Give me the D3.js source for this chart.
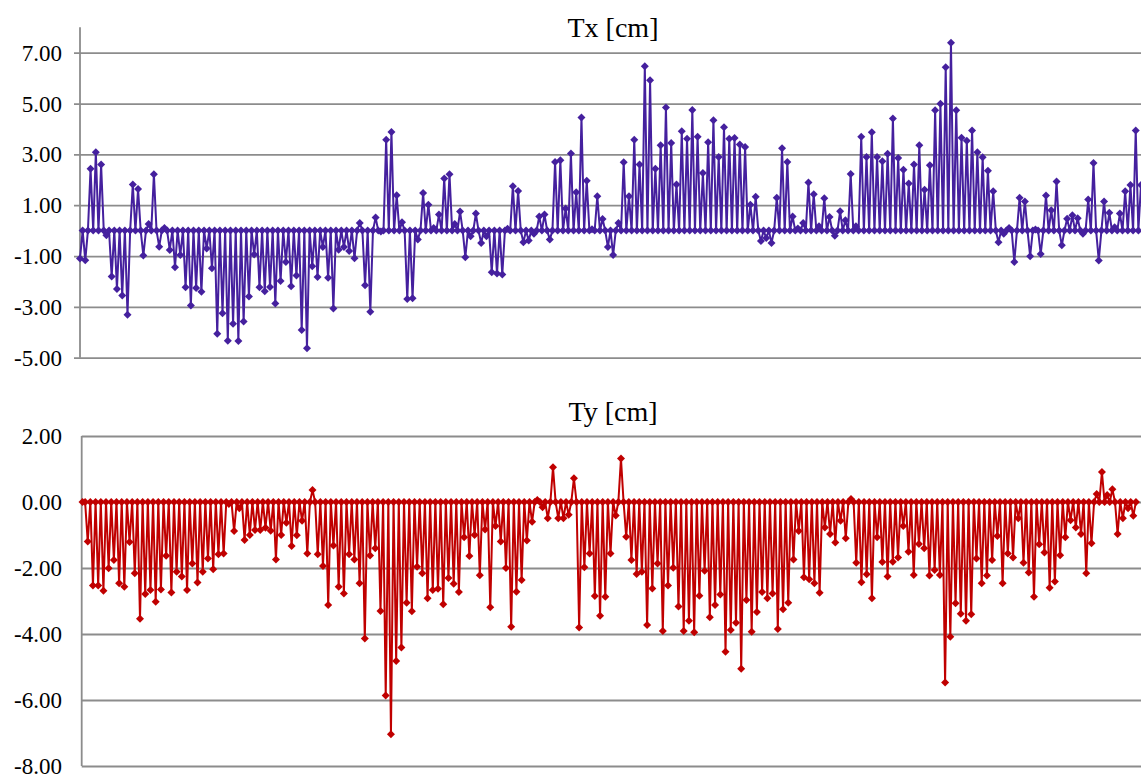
<!DOCTYPE html>
<html><head><meta charset="utf-8">
<script src="https://cdn.jsdelivr.net/npm/d3@7"></script>
<style>body{margin:0;background:#fff}svg{display:block}.tick text{font-family:'Liberation Serif','Times New Roman',serif !important;}</style>
</head><body>
<svg id="c" width="1141" height="775"></svg>
<script>
const txValues = [
-1.10,0,-1.17,0,2.43,0,3.08,0,2.60,0,-0.18,0,-1.81,0,-2.30,0,-2.55,0,-3.31,0,
1.81,0,1.64,0,-0.98,0,0.26,0,2.22,0,-0.63,0,0.10,0,-0.76,0,-1.44,0,-0.96,0,
-2.23,0,-2.95,0,-2.26,0,-2.41,0,-0.70,0,-1.48,0,-4.06,0,-3.25,0,-4.33,0,-3.66,0,
-4.34,0,-3.58,0,
-2.59,0,-0.94,0,-2.23,0,-2.39,0,-2.22,0,-2.87,0,-1.98,0,-1.23,0,-2.19,0,-1.77,0,
-3.91,0,-4.63,0,-1.40,0,-1.82,0,-0.64,0,-1.85,0,-3.06,0,-0.75,0,-0.64,0,-0.80,0,
-1.09,0,0.30,0,-2.15,0,-3.19,0,0.52,0,-0.03,0,3.58,0,3.88,0,1.39,0,0.33,0,
-2.69,0,-2.66,0,-0.35,0,1.48,0,
1.02,0,0.10,0,0.63,0,2.05,0,2.22,0,0.26,0,0.75,0,-1.05,0,-0.22,0,0.67,0,
-0.49,0,-0.22,0,-1.64,0,-1.69,0,-1.73,0,0.07,0,1.75,0,1.56,0,-0.46,0,-0.39,0,
-0.12,0,0.56,0,0.63,0,-0.35,0,2.70,0,2.77,0,0.87,0,3.03,0,1.51,0,4.45,0,
1.96,0,0.05,0,
1.35,0,0.46,0,-0.64,0,-0.96,0,0.30,0,2.69,0,1.35,0,3.58,0,2.60,0,6.47,0,
5.92,0,2.43,0,3.36,0,4.84,0,3.45,0,1.81,0,3.91,0,3.61,0,4.75,0,3.69,0,
2.27,0,3.48,0,4.34,0,2.90,0,4.07,0,3.61,0,3.64,0,3.39,0,3.29,0,1.02,0,
1.33,0,-0.41,0,-0.29,0,-0.49,0,
1.29,0,3.24,0,2.70,0,0.56,0,0.08,0,0.30,0,1.89,0,1.43,0,0.17,0,1.27,0,
0.54,0,-0.20,0,0.76,0,0.41,0,2.23,0,0.17,0,3.69,0,2.90,0,3.87,0,2.90,0,
2.73,0,3.02,0,4.41,0,2.86,0,2.40,0,1.85,0,2.60,0,3.36,0,1.61,0,2.57,0,
4.74,0,4.99,0,
6.43,0,7.39,0,4.74,0,3.65,0,3.54,0,3.94,0,3.08,0,2.89,0,2.36,0,1.55,0,
-0.46,0,-0.12,0,0.10,0,-1.23,0,1.29,0,1.15,0,-1.01,0,0.04,0,-0.92,0,1.38,0,
0.80,0,1.93,0,-0.58,0,0.47,0,0.60,0,0.49,0,-0.12,0,1.22,0,2.66,0,-1.18,0,
1.15,0,0.70,0,0.13,0,0.67,0,1.55,0,1.80,0,3.94,0,1.80,0
];

const tyValues = [
0.00,0,-1.20,0,-2.53,0,-2.53,0,-2.69,0,-2.01,0,-1.76,0,-2.46,0,-2.57,0,-1.21,0,
-2.16,0,-3.54,0,-2.79,0,-2.67,0,-3.02,0,-2.65,0,-1.63,0,-2.74,0,-2.11,0,-2.26,0,
-2.67,0,-1.86,0,-2.44,0,-2.11,0,-1.71,0,-2.04,0,-1.58,0,-1.56,0,-0.06,0,-0.88,0,
-0.19,0,-1.15,0,
-1.00,0,-0.85,0,-0.85,0,-0.78,0,-0.87,0,-1.74,0,-1.00,0,-0.63,0,-1.33,0,-1.01,0,
-0.57,0,-1.56,0,0.36,0,-1.58,0,-1.94,0,-3.12,0,-1.32,0,-2.57,0,-2.77,0,-1.58,0,
-1.74,0,-2.46,0,-4.14,0,-1.62,0,-1.40,0,-3.30,0,-5.86,0,-7.04,0,-4.82,0,-4.41,0,
-3.05,0,-3.31,0,-1.96,0,-2.16,0,
-2.92,0,-2.67,0,-2.63,0,-3.10,0,-2.30,0,-2.48,0,-2.73,0,-1.07,0,-1.64,0,-1.00,0,
-2.22,0,-0.83,0,-3.19,0,-0.73,0,-1.20,0,-2.00,0,-3.78,0,-2.72,0,-2.36,0,-1.17,0,
-0.60,0,0.06,0,-0.16,0,-0.49,0,1.05,0,-0.49,0,-0.49,0,-0.39,0,0.72,0,-3.80,0,
-1.98,0,-1.56,0,-2.85,0,
-3.45,0,-2.87,0,-1.56,0,-0.41,0,1.32,0,-1.05,0,-1.76,0,-2.18,0,-2.11,0,-3.73,0,
-2.62,0,-1.86,0,-3.91,0,-2.53,0,-1.99,0,-3.17,0,-3.91,0,-3.60,0,-3.95,0,-2.84,0,
-2.08,0,-3.49,0,-3.12,0,-2.80,0,-4.54,0,-3.88,0,-3.66,0,-5.05,0,-2.97,0,-3.93,0,
-3.33,0,-2.73,0,-2.92,0,-2.77,0,
-3.85,0,-3.25,0,-3.05,0,-1.74,0,-0.88,0,-2.28,0,-2.34,0,-2.46,0,-2.75,0,-0.77,0,
-0.97,0,-1.23,0,-0.57,0,-1.10,0,0.09,0,-1.84,0,-2.43,0,-2.19,0,-2.92,0,-1.07,0,
-1.82,0,-2.26,0,-1.81,0,-1.68,0,-0.73,0,-1.51,0,-2.21,0,-1.27,0,-1.40,0,-2.23,0,
-2.06,0,-2.21,0,
-5.47,0,-4.08,0,-3.07,0,-3.39,0,-3.60,0,-3.40,0,-1.71,0,-2.46,0,-2.23,0,-1.76,0,
-1.03,0,-2.46,0,-1.56,0,-1.68,0,-0.49,0,-1.84,0,-2.14,0,-2.87,0,-1.28,0,-1.53,0,
-2.60,0,-2.41,0,-1.61,0,-1.07,0,-0.55,0,-0.77,0,-0.97,0,-2.16,0,-1.25,0,0.24,0,
0.91,0,0.21,0,0.39,0,-0.97,0,-0.49,0,-0.19,0,-0.42,0
];

const txTicks = [-5, -3, -1, 1, 3, 5, 7];
const tyTicks = [-8, -6, -4, -2, 0, 2];
const titles = ["Tx [cm]", "Ty [cm]"];
const colors = ["#45209e", "#c00000"];

const fmt = d3.formatLocale({decimal: ".", thousands: ",", grouping: [3], currency: ["", ""], minus: "-"}).format(".2f");
const svg = d3.select("#c");
const W = 1141;
const FONT = "'Liberation Serif','Times New Roman',serif";

const panels = [
  {values: txValues, ticks: txTicks, title: titles[0], color: colors[0],
   yDom: [-5, 8], yRange: [357.7, 27.3], axisX: 80, tickOut: 6,
   xRange: [80, 1141], titleY: 37},
  {values: tyValues, ticks: tyTicks, title: titles[1], color: colors[1],
   yDom: [-8, 2], yRange: [766, 436], axisX: 81.7, tickOut: 0,
   xRange: [82.5, 1133.3], titleY: 421}
];

panels.forEach(p => {
  const g = svg.append("g");
  const y = d3.scaleLinear().domain(p.yDom).range(p.yRange);
  const x = d3.scaleLinear().domain([0, 402]).range(p.xRange);
  const gx0 = p.axisX - p.tickOut;
  const axis = d3.axisLeft(y).tickValues(p.ticks).tickFormat(fmt)
    .tickSizeInner(-(W - gx0)).tickSizeOuter(0).tickPadding(gx0 - 62);
  const ag = g.append("g").attr("transform", `translate(${gx0},0)`).call(axis)
    .attr("font-family", FONT).attr("font-size", 23);
  ag.select(".domain").remove();
  ag.selectAll(".tick line").attr("stroke", "#8c8c8c").attr("stroke-width", 1.8);
  ag.selectAll(".tick text").attr("fill", "#000").attr("font-family", FONT)
    .style("font-size", "23px").attr("dy", "0.33em");
  g.append("line").attr("x1", p.axisX).attr("x2", p.axisX)
    .attr("y1", p.yRange[1]).attr("y2", p.yRange[0])
    .attr("stroke", "#8c8c8c").attr("stroke-width", 1.8);
  g.append("text").attr("x", 613).attr("y", p.titleY).attr("text-anchor", "middle")
    .style("font-family", FONT).style("font-size", "28px").attr("fill", "#000").text(p.title);
  const line = d3.line().x((d, i) => x(i)).y(d => y(d));
  g.append("path").datum(p.values).attr("d", line).attr("fill", "none")
    .attr("stroke", p.color).attr("stroke-width", 2).attr("stroke-linejoin", "round");
  const r = 4;
  g.append("g").selectAll("path").data(p.values).join("path")
    .attr("transform", (d, i) => `translate(${x(i)},${y(d)})`)
    .attr("d", `M0,${-r}L${r},0L0,${r}L${-r},0Z`)
    .attr("fill", p.color);
});
</script>
</body></html>
